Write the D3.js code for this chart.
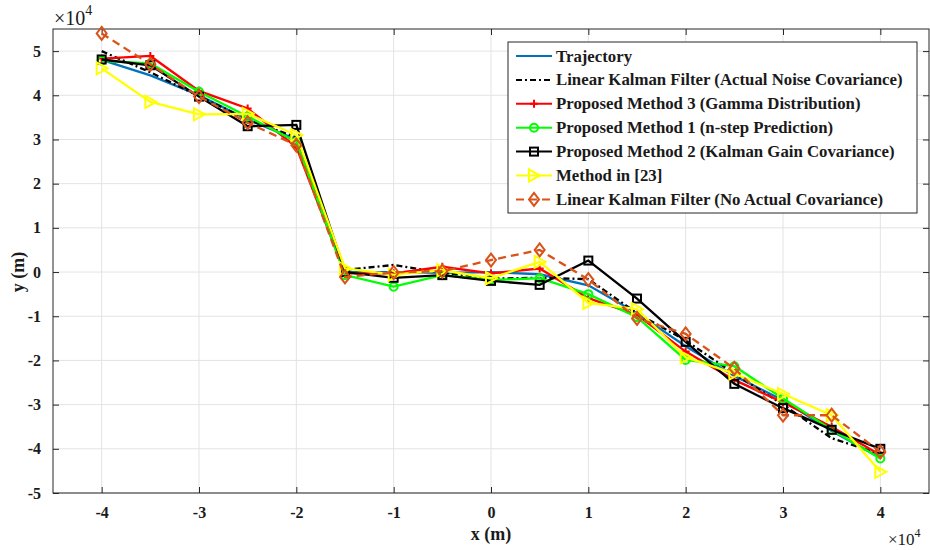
<!DOCTYPE html>
<html>
<head>
<meta charset="utf-8">
<script src="https://cdn.jsdelivr.net/npm/d3@7"></script>
<style>
  body { margin: 0; background: #fff; }
  text { font-family: "Liberation Serif", "Times New Roman", serif; font-weight: bold; fill: #1a1a1a; }
</style>
</head>
<body>
<div id="chart"></div>
<script>
// x positions and y values, all in units of 1e4 m
var xs = [-4, -3.5, -3, -2.5, -2, -1.5, -1, -0.5, 0, 0.5, 1, 1.5, 2, 2.5, 3, 3.5, 4];

var trajectory  = [4.80, 4.45, 4.00, 3.45, 3.00, 0.00, 0.00, -0.02, 0.00, -0.05, -0.30, -0.93, -1.68, -2.35, -2.90, -3.60, -4.20];
var lkfActual   = [5.00, 4.52, 3.98, 3.45, 3.05, 0.05, 0.16, -0.02, -0.15, -0.13, -0.16, -0.93, -1.55, -2.30, -3.00, -3.76, -4.12];
var method3     = [4.83, 4.89, 4.10, 3.70, 2.83, -0.03, -0.03, 0.12, -0.03, 0.08, -0.59, -0.97, -1.80, -2.44, -2.95, -3.50, -4.14];
var method1     = [4.78, 4.72, 4.08, 3.52, 2.95, -0.07, -0.33, -0.07, -0.18, -0.14, -0.50, -1.02, -1.99, -2.13, -2.86, -3.57, -4.22];
var method2     = [4.81, 4.68, 3.97, 3.30, 3.33, 0.00, -0.13, -0.07, -0.20, -0.29, 0.26, -0.60, -1.58, -2.53, -3.08, -3.57, -4.00];
var method23    = [4.61, 3.85, 3.57, 3.58, 3.10, 0.08, -0.06, 0.04, -0.14, 0.23, -0.70, -0.84, -1.93, -2.30, -2.76, -3.24, -4.52];
var lkfNoActual = [5.40, 4.70, 3.97, 3.38, 2.87, -0.11, -0.01, 0.02, 0.27, 0.50, -0.17, -1.05, -1.40, -2.18, -3.24, -3.24, -4.07];

var xTicks = [-4, -3, -2, -1, 0, 1, 2, 3, 4];
var yTicks = [-5, -4, -3, -2, -1, 0, 1, 2, 3, 4, 5];

var series = [
  {name: "Trajectory", values: trajectory, color: "#0072BD", dash: null, marker: null},
  {name: "Linear Kalman Filter (Actual Noise Covariance)", values: lkfActual, color: "#000000", dash: "6,3,2,3", marker: null},
  {name: "Proposed Method 3 (Gamma Distribution)", values: method3, color: "#FF0000", dash: null, marker: "plus"},
  {name: "Proposed Method 1 (n-step Prediction)", values: method1, color: "#00FF00", dash: null, marker: "circle"},
  {name: "Proposed Method 2 (Kalman Gain Covariance)", values: method2, color: "#000000", dash: null, marker: "square"},
  {name: "Method in [23]", values: method23, color: "#FFFF00", dash: null, marker: "triangle"},
  {name: "Linear Kalman Filter (No Actual Covariance)", values: lkfNoActual, color: "#D95319", dash: "8,5", marker: "diamond"}
];

var W = 930, H = 550;
var pL = 53, pR = 929, pT = 29, pB = 493;

var svg = d3.select("#chart").append("svg").attr("width", W).attr("height", H);

var x = d3.scaleLinear().domain([-4.5, 4.5]).range([pL, pR]);
var y = d3.scaleLinear().domain([-5, 5.5]).range([pB, pT]);

// grid
svg.append("g").selectAll("line").data(xTicks).enter().append("line")
  .attr("x1", function(d){ return x(d); }).attr("x2", function(d){ return x(d); })
  .attr("y1", pT).attr("y2", pB)
  .attr("stroke", "#e3e3e3").attr("stroke-width", 1);
svg.append("g").selectAll("line").data(yTicks).enter().append("line")
  .attr("y1", function(d){ return y(d); }).attr("y2", function(d){ return y(d); })
  .attr("x1", pL).attr("x2", pR)
  .attr("stroke", "#e3e3e3").attr("stroke-width", 1);

// axes (ticks inward on all sides)
var fmt = function(d){ return d; };
var axB = svg.append("g").attr("transform", "translate(0," + pB + ")")
  .call(d3.axisBottom(x).tickValues(xTicks).tickFormat(fmt).tickSizeInner(-6).tickSizeOuter(0).tickPadding(14));
var axL = svg.append("g").attr("transform", "translate(" + pL + ",0)")
  .call(d3.axisLeft(y).tickValues(yTicks).tickFormat(fmt).tickSizeInner(-6).tickSizeOuter(0).tickPadding(12));
var axT = svg.append("g").attr("transform", "translate(0," + pT + ")")
  .call(d3.axisTop(x).tickValues(xTicks).tickFormat("").tickSizeInner(-6).tickSizeOuter(0));
var axR = svg.append("g").attr("transform", "translate(" + pR + ",0)")
  .call(d3.axisRight(y).tickValues(yTicks).tickFormat("").tickSizeInner(-6).tickSizeOuter(0));
[axB, axL, axT, axR].forEach(function(a){
  a.selectAll("path").remove();
  a.selectAll("line").attr("stroke", "#262626");
  a.selectAll("text").style("font-size", "16px").style("font-family", "'Liberation Serif', serif")
    .style("font-weight", "bold").attr("fill", "#1a1a1a");
});
svg.append("rect").attr("x", pL).attr("y", pT).attr("width", pR - pL).attr("height", pB - pT)
  .attr("fill", "none").attr("stroke", "#262626").attr("stroke-width", 1);

// lines
var line = d3.line().x(function(d, i){ return x(xs[i]); }).y(function(d){ return y(d); });

function drawMarker(g, type, cx, cy, color){
  if(type == "plus"){
    g.append("path").attr("d", "M" + (cx-4) + "," + cy + "H" + (cx+4) + "M" + cx + "," + (cy-4) + "V" + (cy+4))
      .attr("stroke", color).attr("stroke-width", 2).attr("fill", "none");
  } else if(type == "circle"){
    g.append("circle").attr("cx", cx).attr("cy", cy).attr("r", 4)
      .attr("stroke", color).attr("stroke-width", 2).attr("fill", "none");
  } else if(type == "square"){
    g.append("rect").attr("x", cx-4).attr("y", cy-4).attr("width", 8).attr("height", 8)
      .attr("stroke", color).attr("stroke-width", 2).attr("fill", "none");
  } else if(type == "triangle"){
    g.append("path").attr("d", "M" + (cx-5) + "," + (cy-6) + "L" + (cx+6) + "," + cy + "L" + (cx-5) + "," + (cy+6) + "Z")
      .attr("stroke", color).attr("stroke-width", 2).attr("fill", "none");
  } else if(type == "diamond"){
    g.append("path").attr("d", "M" + cx + "," + (cy-6.5) + "L" + (cx+5) + "," + cy + "L" + cx + "," + (cy+6.5) + "L" + (cx-5) + "," + cy + "Z")
      .attr("stroke", color).attr("stroke-width", 2).attr("fill", "none");
  }
}

series.forEach(function(s){
  var g = svg.append("g");
  g.append("path").datum(s.values).attr("d", line)
    .attr("fill", "none").attr("stroke", s.color).attr("stroke-width", 2.3)
    .attr("stroke-dasharray", s.dash);
  if(s.marker){
    s.values.forEach(function(v, i){ drawMarker(g, s.marker, x(xs[i]), y(v), s.color); });
  }
});

// axis labels
svg.append("text").attr("x", x(0)).attr("y", 540).attr("text-anchor", "middle")
  .style("font-size", "18px").text("x (m)");
svg.append("text").attr("transform", "translate(24," + y(0) + ") rotate(-90)").attr("text-anchor", "middle")
  .style("font-size", "18px").text("y (m)");

// exponent labels
var e1 = svg.append("text").attr("x", 54).attr("y", 25).style("font-size", "20px").style("font-weight", "normal");
e1.append("tspan").text("×10");
e1.append("tspan").attr("dy", -10).style("font-size", "14px").text("4");
var e2 = svg.append("text").attr("x", 888).attr("y", 545).style("font-size", "17px").style("font-weight", "normal");
e2.append("tspan").text("×10");
e2.append("tspan").attr("dy", -8).style("font-size", "12px").text("4");

// legend
var lg = svg.append("g");
lg.append("rect").attr("x", 508).attr("y", 42).attr("width", 409).attr("height", 171)
  .attr("fill", "#fff").attr("stroke", "#262626").attr("stroke-width", 1);
series.forEach(function(s, i){
  var ly = 56 + i * 23.9;
  lg.append("line").attr("x1", 516).attr("x2", 552).attr("y1", ly).attr("y2", ly)
    .attr("stroke", s.color).attr("stroke-width", 2).attr("stroke-dasharray", s.dash);
  if(s.marker) drawMarker(lg, s.marker, 534, ly, s.color);
  lg.append("text").attr("x", 556).attr("y", ly + 5.5).style("font-size", "16.8px").text(s.name);
});
</script>
</body>
</html>
